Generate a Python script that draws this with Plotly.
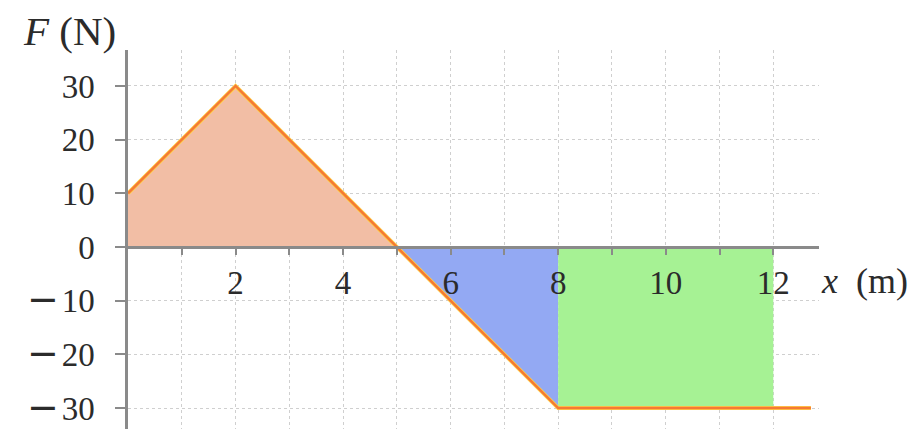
import plotly.graph_objects as go

# Data
force_x = [0, 2, 8, 12.7]
force_y = [10, 30, -30, -30]

pos_region_x = [0, 0, 2, 5]
pos_region_y = [0, 10, 30, 0]

tri_region_x = [5, 8, 8]
tri_region_y = [0, 0, -30]

rect_region_x = [8, 12, 12, 8]
rect_region_y = [0, 0, -30, -30]

x_tickvals = list(range(1, 13))
x_ticktext = ["" if v % 2 else str(v) for v in x_tickvals]
y_tickvals = [-30, -20, -10, 0, 10, 20, 30]
y_ticktext = [('<span style="font-family:DejaVu Sans;font-size:38px">\u2212</span>\u200a' + str(-v))
              if v < 0 else str(v) for v in y_tickvals]

X_RANGE = [0, 12.85]
Y_RANGE = [-33.9, 36.7]

FONT = "Liberation Serif"
TXT = "#2b2b2b"

fig = go.Figure()
fig.add_trace(go.Scatter(x=pos_region_x, y=pos_region_y, fill="toself", mode="none",
                         fillcolor="#f2bea5", hoverinfo="skip"))
fig.add_trace(go.Scatter(x=tri_region_x, y=tri_region_y, fill="toself", mode="none",
                         fillcolor="#93a9f3", hoverinfo="skip"))
fig.add_trace(go.Scatter(x=rect_region_x, y=rect_region_y, fill="toself", mode="none",
                         fillcolor="#a6f294", hoverinfo="skip"))
fig.add_trace(go.Scatter(x=force_x, y=force_y, mode="lines",
                         line=dict(color="#ffd24a", width=4), hoverinfo="skip"))
fig.add_trace(go.Scatter(x=force_x, y=force_y, mode="lines",
                         line=dict(color="#f57a34", width=2.5), hoverinfo="skip"))

xpos = (0 - Y_RANGE[0]) / (Y_RANGE[1] - Y_RANGE[0])

fig.update_layout(
    width=910, height=421,
    margin=dict(l=120, r=99, t=42, b=0, autoexpand=False),
    paper_bgcolor="white", plot_bgcolor="white",
    showlegend=False,
    font=dict(family=FONT, size=33, color=TXT),
    xaxis=dict(range=X_RANGE, tickvals=x_tickvals, ticktext=x_ticktext,
               showgrid=True, gridcolor="#cfcfcf", griddash="dot", gridwidth=1,
               zeroline=False, showline=True, linecolor="#8a8a8a", linewidth=2.5,
               ticks="outside", ticklen=6, tickcolor="#8a8a8a", tickwidth=1.5,
               anchor="free", position=xpos, ticklabelstandoff=0, automargin=False,
               ticklabeloverflow="allow",
               tickfont=dict(family=FONT, size=33, color=TXT)),
    yaxis=dict(range=Y_RANGE, tickvals=y_tickvals, ticktext=y_ticktext,
               showgrid=True, gridcolor="#cfcfcf", griddash="dot", gridwidth=1,
               zeroline=False, showline=True, linecolor="#8a8a8a", linewidth=2.5,
               ticks="outside", ticklen=10, tickcolor="#8a8a8a", tickwidth=1.5,
               ticklabelstandoff=14, automargin=False, ticklabeloverflow="allow",
               tickfont=dict(family=FONT, size=33, color=TXT)),
    annotations=[
        dict(text="<i>F</i> (N)", xref="paper", yref="paper", x=-0.155, y=1.05,
             xanchor="left", yanchor="middle", showarrow=False,
             font=dict(family=FONT, size=41, color=TXT)),
        dict(text="<i>x</i>\u2002(m)", xref="paper", yref="paper", x=1.0, y=0.39,
             xanchor="left", yanchor="middle", showarrow=False,
             font=dict(family=FONT, size=36, color=TXT)),
    ],
)

fig.write_html("out.html")
